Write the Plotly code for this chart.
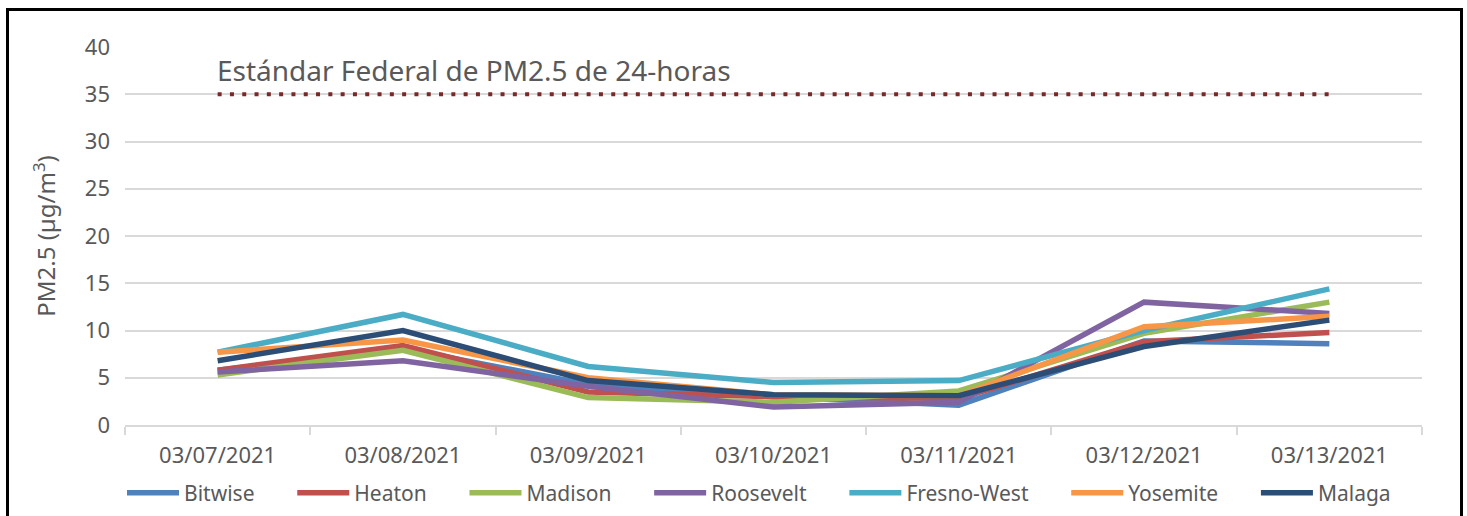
import plotly.graph_objects as go

dates = ["03/07/2021", "03/08/2021", "03/09/2021", "03/10/2021", "03/11/2021", "03/12/2021", "03/13/2021"]

bitwise = [5.8, 8.1, 4.3, 3.0, 2.1, 8.9, 8.6]
heaton = [5.8, 8.4, 3.5, 3.0, 2.8, 8.8, 9.8]
madison = [5.3, 7.9, 2.9, 2.4, 3.6, 9.7, 13.0]
roosevelt = [5.6, 6.8, 4.1, 1.9, 2.4, 13.0, 11.8]
fresno_west = [7.7, 11.7, 6.2, 4.5, 4.7, 10.0, 14.4]
yosemite = [7.7, 9.0, 5.0, 3.2, 3.1, 10.4, 11.5]
malaga = [6.8, 10.0, 4.7, 3.2, 3.1, 8.3, 11.1]
standard = [35, 35, 35, 35, 35, 35, 35]

series = [
    ("Bitwise", bitwise, "#4F81BD"),
    ("Heaton", heaton, "#C0504D"),
    ("Madison", madison, "#9BBB59"),
    ("Roosevelt", roosevelt, "#8064A2"),
    ("Fresno-West", fresno_west, "#4BACC6"),
    ("Yosemite", yosemite, "#F79646"),
    ("Malaga", malaga, "#2C4D75"),
]

FONT = "Noto Sans"
GRAY = "#595959"
PAD = "\u00a0" * 6

fig = go.Figure()
fig.add_trace(go.Scatter(x=dates, y=standard, mode="lines", showlegend=False,
                         line=dict(color="#7A2828", width=4, dash="4px,8.3px"),
                         hoverinfo="skip"))
for name, vals, col in series:
    fig.add_trace(go.Scatter(x=dates, y=vals, mode="lines", name=name + PAD,
                             line=dict(color=col, width=5.5)))

W, H = 1467, 516
L, R, T, B = 125, 45, 47, 91
pw, ph = W - L - R, H - T - B

def px_x(x):
    return (x - L) / pw

def px_y(y):
    return (H - B - y) / ph

fig.add_annotation(x=dates[0], y=35, xref="x", yref="y", xanchor="left", yanchor="bottom",
                   xshift=-3, yshift=3, showarrow=False,
                   text="Estándar Federal de PM2.5 de 24-horas",
                   font=dict(family=FONT, size=28, color=GRAY))

fig.add_shape(type="rect", xref="paper", yref="paper",
              x0=px_x(7.5), x1=px_x(1461.5), y0=px_y(540), y1=px_y(9.5),
              line=dict(color="black", width=3), fillcolor="rgba(0,0,0,0)", layer="above")

fig.update_layout(
    width=W, height=H,
    margin=dict(l=L, r=R, t=T, b=B, autoexpand=False),
    paper_bgcolor="white", plot_bgcolor="white",
    font=dict(family=FONT, size=21, color=GRAY),
    xaxis=dict(type="category", range=[-0.5, 6.5], showgrid=False, automargin=False,
               showline=True, linecolor="#D9D9D9", linewidth=1.5,
               ticks="outside", tickson="boundaries", ticklen=8, tickcolor="#D9D9D9",
               tickwidth=1.5, ticklabelstandoff=10, tickfont=dict(size=22, color=GRAY)),
    yaxis=dict(range=[0, 40], dtick=5, showgrid=True, gridcolor="#D9D9D9", gridwidth=1.5,
               zeroline=False, showline=False, ticks="", automargin=False,
               ticklabelstandoff=14, tickfont=dict(size=22, color=GRAY),
               title=dict(text="PM2.5 (µg/m<sup>3</sup>)", font=dict(size=24, color=GRAY), standoff=22)),
    legend=dict(orientation="h", x=px_x(122), xanchor="left", y=px_y(493), yanchor="middle",
                font=dict(size=21, color=GRAY), itemwidth=52, tracegroupgap=0,
                bgcolor="rgba(0,0,0,0)"),
    showlegend=True,
)

fig.write_html("out.html", config={"displayModeBar": False},
               post_script="document.body.style.margin='0';document.body.style.overflow='hidden';")
